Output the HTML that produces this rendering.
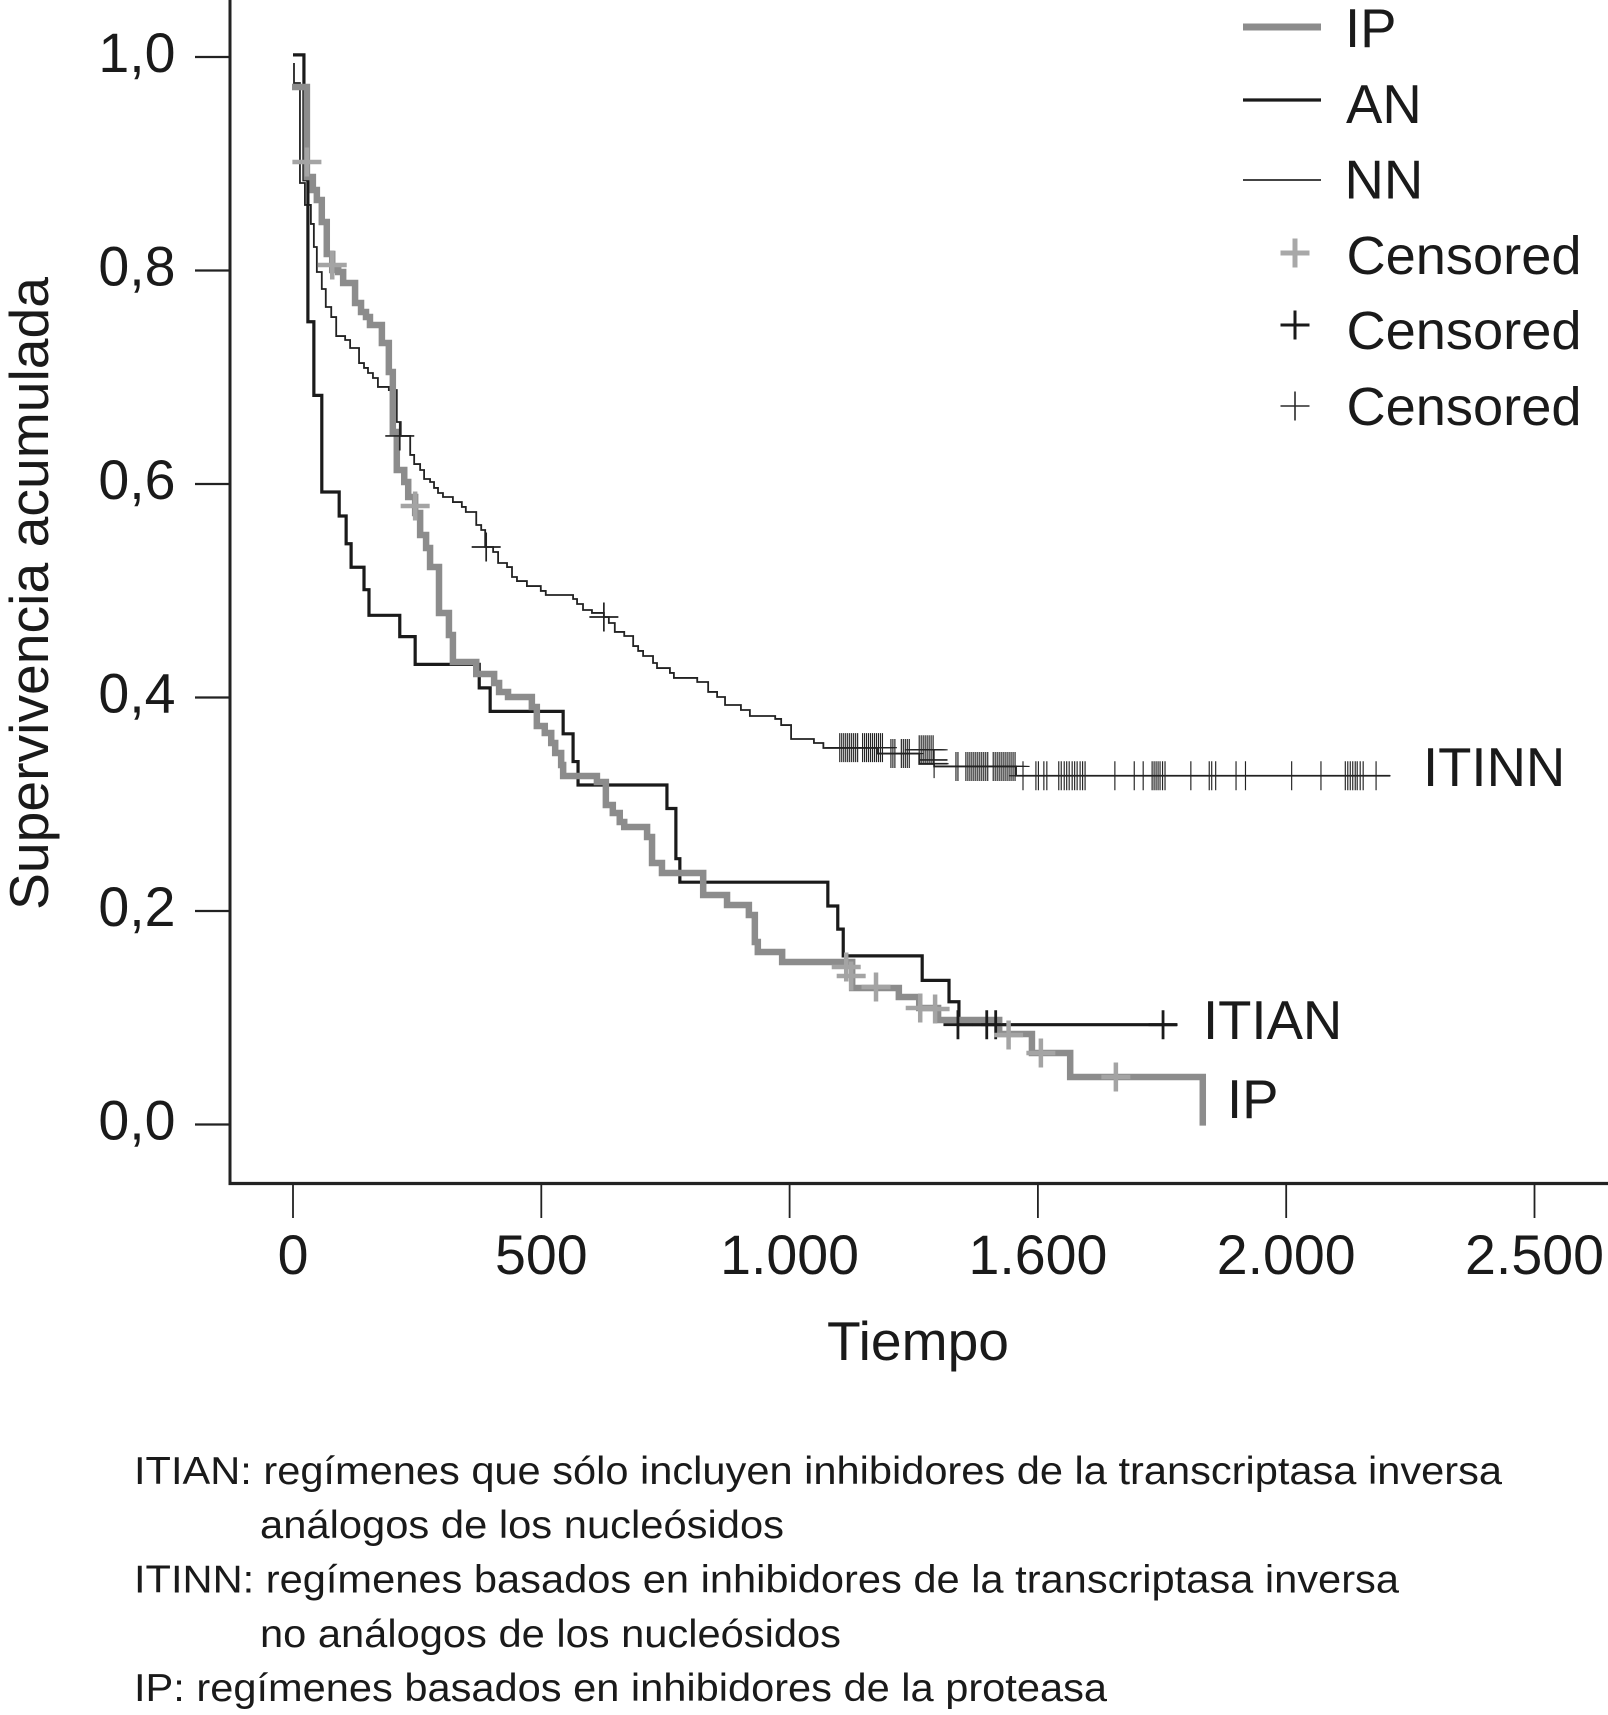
<!DOCTYPE html>
<html lang="es">
<head>
<meta charset="utf-8">
<title>Supervivencia acumulada</title>
<style>
  html, body { margin: 0; padding: 0; background: #fff; }
  svg { display: block; }
  text { font-family: "Liberation Sans", Arial, sans-serif; fill: #1a1a1a; }
</style>
</head>
<body>
<svg id="chart" xmlns="http://www.w3.org/2000/svg" width="1608" height="1715" viewBox="0 0 1608 1715">
  <rect x="0" y="0" width="1608" height="1715" fill="#fff"/>
  <g id="axes"></g>
  <g id="marks"></g>

  <text x="918" y="1360" font-size="55" text-anchor="middle" textLength="182" lengthAdjust="spacingAndGlyphs">Tiempo</text>
  <text transform="translate(48,593.5) rotate(-90)" font-size="55" text-anchor="middle" textLength="633" lengthAdjust="spacingAndGlyphs">Supervivencia acumulada</text>

  <g>
    <line x1="1243" x2="1321" y1="27" y2="27" stroke="#8c8c8c" stroke-width="7"/>
    <line x1="1243" x2="1321" y1="100" y2="100" stroke="#1a1a1a" stroke-width="3.2"/>
    <line x1="1243" x2="1321" y1="180" y2="180" stroke="#2a2a2a" stroke-width="1.8"/>
    <path d="M1280.500 253H1309.500M1295 238.500V267.500" stroke="#a8a8a8" stroke-width="5" fill="none"/>
    <path d="M1280.500 325H1309.500M1295 310.500V339.500" stroke="#1a1a1a" stroke-width="3" fill="none"/>
    <path d="M1280.500 406H1309.500M1295 391.500V420.500" stroke="#2a2a2a" stroke-width="1.6" fill="none"/>
    <text x="1345" y="47" font-size="54.500">IP</text>
    <text x="1346" y="123" font-size="54.500">AN</text>
    <text x="1344.500" y="198.500" font-size="54.500">NN</text>
    <text x="1346.500" y="274" font-size="54" textLength="235" lengthAdjust="spacingAndGlyphs">Censored</text>
    <text x="1346.500" y="349" font-size="54" textLength="235" lengthAdjust="spacingAndGlyphs">Censored</text>
    <text x="1346.500" y="425" font-size="54" textLength="235" lengthAdjust="spacingAndGlyphs">Censored</text>
  </g>

  <text x="1423" y="786" font-size="54.500">ITINN</text>
  <text x="1203" y="1039" font-size="54.500">ITIAN</text>
  <text x="1227" y="1118" font-size="54.500">IP</text>

  <g>
    <text x="134" y="1484" font-size="38.500" textLength="1368" lengthAdjust="spacingAndGlyphs">ITIAN: regímenes que sólo incluyen inhibidores de la transcriptasa inversa</text>
    <text x="260" y="1538" font-size="38.500" textLength="524" lengthAdjust="spacingAndGlyphs">análogos de los nucleósidos</text>
    <text x="134" y="1592.500" font-size="38.500" textLength="1265" lengthAdjust="spacingAndGlyphs">ITINN: regímenes basados en inhibidores de la transcriptasa inversa</text>
    <text x="260" y="1647" font-size="38.500" textLength="581" lengthAdjust="spacingAndGlyphs">no análogos de los nucleósidos</text>
    <text x="134" y="1701" font-size="38.500" textLength="973" lengthAdjust="spacingAndGlyphs">IP: regímenes basados en inhibidores de la proteasa</text>
  </g>
</svg>

<script>
// ---- Data (time in days, cumulative survival) ----
const xTickValues = [0, 500, 1000, 1500, 2000, 2500];
const xTickLabels = ['0', '500', '1.000', '1.600', '2.000', '2.500'];
const yTickValues = [0, 0.2, 0.4, 0.6, 0.8, 1.0];
const yTickLabels = ['0,0', '0,2', '0,4', '0,6', '0,8', '1,0'];

const anStart = [0, 1.002];
const anTimes = [22, 30, 42, 58, 93, 107, 117, 143, 153, 215, 246, 375, 397, 544, 564, 574, 753, 771, 779, 1077, 1097, 1108, 1267, 1321, 1341];
const anSurvival = [0.885, 0.752, 0.683, 0.5925, 0.570, 0.544, 0.522, 0.501, 0.477, 0.457, 0.431, 0.409, 0.387, 0.366, 0.340, 0.318, 0.296, 0.249, 0.227, 0.2047, 0.183, 0.158, 0.135, 0.115, 0.0935];
const anEndTime = 1780;
const anCensorTimes = [1339, 1397, 1415, 1752];
const anCensorSurvival = [0.0935, 0.0935, 0.0935, 0.0935];

const ipStart = [-2, 0.9719];
const ipTimes = [28, 40, 48, 58, 68, 79, 91, 101, 125, 137, 147, 155, 179, 193, 201, 209, 224, 232, 246, 256, 268, 276, 294, 314, 322, 369, 405, 415, 433, 481, 491, 507, 520, 528, 540, 544, 612, 630, 644, 658, 667, 713, 723, 743, 826, 874, 918, 930, 936, 985, 1126, 1220, 1261, 1299, 1422, 1488, 1565, 1832];
const ipSurvival = [0.8876, 0.8754, 0.8660, 0.8454, 0.8154, 0.8005, 0.7986, 0.7883, 0.7695, 0.7611, 0.7564, 0.7489, 0.7321, 0.7049, 0.6487, 0.6131, 0.6019, 0.5878, 0.5728, 0.5522, 0.5400, 0.5222, 0.4792, 0.4585, 0.4332, 0.4220, 0.4136, 0.4052, 0.4005, 0.3911, 0.3733, 0.3668, 0.3574, 0.3480, 0.3368, 0.3265, 0.3208, 0.2993, 0.2918, 0.2834, 0.2787, 0.2693, 0.2450, 0.2356, 0.2150, 0.2056, 0.1963, 0.1710, 0.1616, 0.1522, 0.1279, 0.1194, 0.1091, 0.0979, 0.0848, 0.0670, 0.0445, -0.001];
const ipCensorTimes = [28, 79, 246, 1114, 1124, 1174, 1263, 1293, 1441, 1506, 1657];
const ipCensorSurvival = [0.9016, 0.8052, 0.5794, 0.1475, 0.1391, 0.1288, 0.1091, 0.1082, 0.0838, 0.0670, 0.0445];

const nnStart = [2, 0.9944];
const nnTimes = [2, 14, 24, 36, 42, 48, 58, 66, 77, 87, 105, 115, 133, 143, 151, 161, 171, 193, 209, 217, 236, 244, 256, 264, 276, 284, 292, 302, 322, 340, 348, 369, 379, 387, 403, 413, 431, 441, 451, 471, 499, 509, 564, 572, 584, 602, 626, 636, 648, 667, 685, 695, 705, 725, 733, 759, 767, 814, 836, 854, 870, 902, 920, 971, 983, 1003, 1049, 1068, 1178, 1261, 1291, 1456];
const nnSurvival = [0.9756, 0.8820, 0.8614, 0.8436, 0.8220, 0.7986, 0.7827, 0.7658, 0.7564, 0.7386, 0.7349, 0.7274, 0.7133, 0.7087, 0.7040, 0.6993, 0.6909, 0.6880, 0.6581, 0.6450, 0.6272, 0.6187, 0.6131, 0.6047, 0.6019, 0.5963, 0.5916, 0.5878, 0.5831, 0.5785, 0.5738, 0.5616, 0.5569, 0.5410, 0.5363, 0.5260, 0.5222, 0.5129, 0.5091, 0.5044, 0.4998, 0.4960, 0.4923, 0.4876, 0.4820, 0.4792, 0.4754, 0.4698, 0.4614, 0.4576, 0.4482, 0.4436, 0.4389, 0.4323, 0.4276, 0.4230, 0.4183, 0.4145, 0.4052, 0.4005, 0.3930, 0.3883, 0.3827, 0.3799, 0.3742, 0.3611, 0.3574, 0.3527, 0.3475, 0.3377, 0.3354, 0.3267];
const nnEndTime = 2209;
const nnCensorEarlyTimes = [215, 389, 626];
const nnCensorEarlySurvival = [0.645, 0.541, 0.4754];
const nnCensorGroupSurvival = [0.353, 0.3475, 0.351, 0.338, 0.3354, 0.3267];
const nnCensorGroupTimes = [
  [1101, 1105, 1109, 1113, 1117, 1121, 1125, 1129, 1133, 1137, 1147, 1151, 1155, 1159, 1163, 1167, 1171, 1175, 1179, 1183, 1187],
  [1204, 1208, 1212, 1225, 1229, 1233, 1237, 1241],
  [1261, 1265, 1269, 1273, 1277, 1281, 1285, 1289],
  [1291],
  [1335, 1339, 1355, 1359, 1363, 1367, 1371, 1375, 1379, 1383, 1387, 1391, 1395, 1399, 1410, 1414, 1418, 1422, 1426, 1430, 1434, 1438, 1442, 1446, 1450, 1454],
  [1470, 1496, 1501, 1512, 1518, 1542, 1547, 1553, 1558, 1563, 1569, 1574, 1579, 1585, 1590, 1595, 1655, 1694, 1712, 1730, 1734, 1738, 1742, 1746, 1751, 1756, 1808, 1845, 1850, 1858, 1899, 1918, 2011, 2070, 2119, 2124, 2129, 2134, 2139, 2143, 2149, 2155, 2181]
];
const nnExtraSegmentStart = [1261, 1261];
const nnExtraSegmentEnd = [1318, 1318];
const nnExtraSegmentSurvival = [0.3415, 0.338];

// ---- Axis functions ----
function xScale(t) { return 293 + t * 0.4966; }
function yScale(s) { return 1124.5 - s * 1067.5; }

const NS = 'http://www.w3.org/2000/svg';
const axes = document.getElementById('axes');
const marks = document.getElementById('marks');

function make(tag, attrs, parent) {
  const el = document.createElementNS(NS, tag);
  for (const k in attrs) el.setAttribute(k, attrs[k]);
  parent.appendChild(el);
  return el;
}

// ---- Axes ----
const yAxisLine = make('line', { x1: 230, x2: 230, y1: 0, y2: 1185, stroke: '#222', 'stroke-width': 3 }, axes);


const xAxisLine = make('line', { x1: 228.5, x2: 1608, y1: 1183.5, y2: 1183.5, stroke: '#222', 'stroke-width': 3.2 }, axes);



xTickValues.forEach(function (v, i) {
  const x = xScale(v);
  const tick = make('line', { x1: x, x2: x, y1: 1184, y2: 1218, stroke: '#222', 'stroke-width': 1.8 }, axes);
  
  
  const label = make('text', { x: x, y: 1274, 'font-size': 55.5, 'text-anchor': 'middle' }, axes);
  label.textContent = xTickLabels[i];
  
  
});

yTickValues.forEach(function (v, i) {
  const y = yScale(v);
  const tick = make('line', { x1: 195, x2: 230, y1: y, y2: y, stroke: '#222', 'stroke-width': 2.2 }, axes);
  
  
  const label = make('text', { x: 175.5, y: y + 15, 'font-size': 55.5, 'text-anchor': 'end' }, axes);
  label.textContent = yTickLabels[i];
  
  
});

// ---- Curves ----
function stepPath(start, times, survival, endTime) {
  let d = 'M' + xScale(start[0]).toFixed(2) + ' ' + yScale(start[1]).toFixed(2);
  let last = start[1];
  times.forEach(function (t, i) {
    d += 'L' + xScale(t).toFixed(2) + ' ' + yScale(last).toFixed(2);
    d += 'L' + xScale(t).toFixed(2) + ' ' + yScale(survival[i]).toFixed(2);
    last = survival[i];
  });
  if (endTime !== undefined) {
    d += 'L' + xScale(endTime).toFixed(2) + ' ' + yScale(last).toFixed(2);
  }
  return d;
}

const nnCurve = make('path', { d: stepPath(nnStart, nnTimes, nnSurvival, nnEndTime), fill: 'none', stroke: '#222', 'stroke-width': 1.8 }, marks);



nnExtraSegmentStart.forEach(function (t, i) {
  const seg = make('line', { x1: xScale(t), x2: xScale(nnExtraSegmentEnd[i]), y1: yScale(nnExtraSegmentSurvival[i]), y2: yScale(nnExtraSegmentSurvival[i]), stroke: '#222', 'stroke-width': 1.7 }, marks);
  
  
});

const anCurve = make('path', { d: stepPath(anStart, anTimes, anSurvival, anEndTime), fill: 'none', stroke: '#1a1a1a', 'stroke-width': 3.2 }, marks);



const ipCurve = make('path', { d: stepPath(ipStart, ipTimes, ipSurvival), fill: 'none', stroke: '#8c8c8c', 'stroke-width': 6.5 }, marks);



// ---- Censor marks ----
function crossPath(t, s) {
  const x = xScale(t), y = yScale(s);
  return 'M' + (x - 14.5).toFixed(2) + ' ' + y.toFixed(2) + 'H' + (x + 14.5).toFixed(2) +
         'M' + x.toFixed(2) + ' ' + (y - 14.5).toFixed(2) + 'V' + (y + 14.5).toFixed(2);
}

nnCensorEarlyTimes.forEach(function (t, i) {
  const c = make('path', { d: crossPath(t, nnCensorEarlySurvival[i]), fill: 'none', stroke: '#222', 'stroke-width': 1.7 }, marks);
  
  
});
nnCensorGroupTimes.forEach(function (group, g) {
  group.forEach(function (t) {
    const c = make('path', { d: crossPath(t, nnCensorGroupSurvival[g]), fill: 'none', stroke: '#222', 'stroke-width': 1.15 }, marks);
    
    
  });
});
anCensorTimes.forEach(function (t, i) {
  const c = make('path', { d: crossPath(t, anCensorSurvival[i]), fill: 'none', stroke: '#1a1a1a', 'stroke-width': 2.8 }, marks);
  
  
});
ipCensorTimes.forEach(function (t, i) {
  const c = make('path', { d: crossPath(t, ipCensorSurvival[i]), fill: 'none', stroke: '#a4a4a4', 'stroke-width': 4.5 }, marks);
  
  
});
</script>
</body>
</html>
